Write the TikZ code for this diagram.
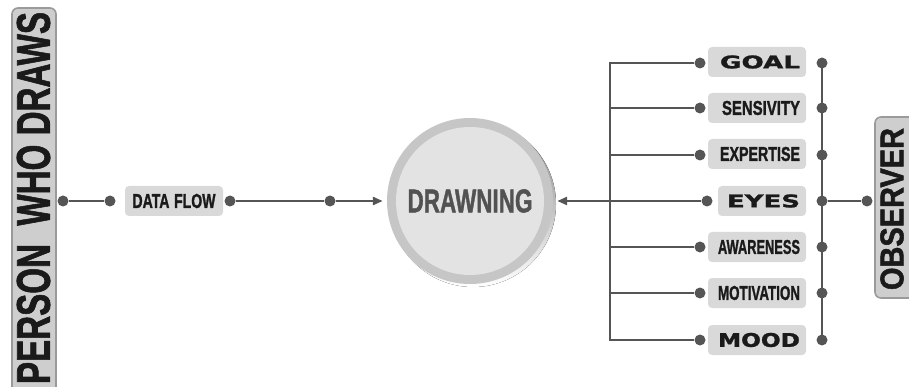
\documentclass[tikz,border=0pt]{standalone}
\usepackage{fontspec}
\setmainfont{Liberation Sans}[BoldFeatures={FakeBold=1.6}]
\newfontfamily\heavyfont{DejaVu Sans}[BoldFeatures={FakeBold=1.2}]
\usetikzlibrary{arrows.meta}

\definecolor{wire}{HTML}{555555}
\definecolor{tagfill}{HTML}{D9D9D9}
\definecolor{barfill}{HTML}{CECECE}
\definecolor{baredge}{HTML}{9A9A9A}
\definecolor{ringfill}{HTML}{C6C6C6}
\definecolor{discfill}{HTML}{E3E3E3}
\definecolor{shade}{HTML}{9C9C9C}
\definecolor{inkgray}{HTML}{525252}
\definecolor{ink}{HTML}{1A1A1A}

% squeeze bold text into an exact width x cap-height
\newcommand{\fitlbl}[3]{\resizebox{#1pt}{#2pt}{\bfseries #3}}
\newcommand{\fitwide}[3]{\resizebox{#1pt}{#2pt}{\heavyfont\bfseries #3}}

\begin{document}
\begin{tikzpicture}[x=1pt,y=-1pt,
  wire/.style={draw=wire, line width=2.7pt},
  dot/.style={circle, fill=wire, inner sep=0pt, minimum size=11pt},
  tagbox/.style={fill=tagfill, rounded corners=4pt, minimum height=30pt,
                 inner xsep=6pt, inner ysep=0pt, align=right, text width=86pt, text=ink},
  sidebar/.style={fill=barfill, draw=baredge, line width=1.6pt, rounded corners=6pt},
  tip/.style={-{Triangle[length=10pt,width=8pt]}}
]
\useasboundingbox (0,0) rectangle (909,387);

% person bar on the left
\draw[sidebar] (12,8) rectangle (56,400);
\node[rotate=90, inner sep=0pt, text=ink] (person) at (33.5,198) {\fitlbl{372}{33}{PERSON\ \ WHO DRAWS}};

% observer bar on the right
\draw[sidebar] (875,117) rectangle (916,298);
\node[rotate=90, inner sep=0pt, text=ink] (observer) at (892,209) {\fitlbl{162}{23}{OBSERVER}};

% central disc with its drop shadow
\fill[shade] (473,204) circle (83pt);
\node[circle, fill=ringfill, minimum size=166pt, inner sep=0pt] (drawing) at (470,201) {};
\fill[discfill] (drawing.center) circle (74pt);
\node[inner sep=0pt, text=inkgray] (drawtxt) at (drawing.center) {\fitlbl{125}{23}{DRAWNING}};

% data flow chain
\node[dot] (p1) at (63,201) {};
\node[dot] (p2) at (110,201) {};
\node[tagbox, text width=86pt, align=center] (flow) at (174,201) {\fitlbl{83}{14}{DATA FLOW}};
\node[dot] (p3) at (230,201) {};
\node[dot] (p4) at (330,201) {};
\draw[wire] (p1) -- (p2);
\draw[wire] (p3) -- (p4);
\draw[wire, tip, shorten >=4pt] (p4) -- (drawing);

% factor boxes
\node[tagbox] (goal) at (757,62) {\fitwide{80}{13}{GOAL}};
\node[tagbox] (sens) at (757,108) {\fitlbl{78}{14}{SENSIVITY}};
\node[tagbox] (expe) at (757,154) {\fitlbl{80}{14}{EXPERTISE}};
\node[tagbox, text width=76pt] (eyes) at (762,201) {\fitwide{73}{13}{EYES}};
\node[tagbox] (awar) at (757,247) {\fitlbl{82}{14}{AWARENESS}};
\node[tagbox] (moti) at (757,293) {\fitlbl{82}{14}{MOTIVATION}};
\node[tagbox] (mood) at (757,340) {\fitwide{82}{14}{MOOD}};

% left-hand dots and bus
\node[dot] (l1) at (700,63) {};
\node[dot] (l2) at (700,108) {};
\node[dot] (l3) at (700,155) {};
\node[dot] (l4) at (707,201) {};
\node[dot] (l5) at (700,247) {};
\node[dot] (l6) at (700,293) {};
\node[dot] (l7) at (700,340) {};
\coordinate (lbus) at (610,340);
\draw[wire, line join=miter] (l1) -| (lbus) -- (l7);
\foreach \n in {l2,l3,l5,l6} \draw[wire] (\n) -- (\n -| lbus);
\draw[wire, tip, shorten >=4pt] (l4) -- (drawing);

% right-hand dots and bus
\node[dot] (r1) at (822,63) {};
\node[dot] (r2) at (822,108) {};
\node[dot] (r3) at (822,155) {};
\node[dot] (r4) at (822,201) {};
\node[dot] (r5) at (822,247) {};
\node[dot] (r6) at (822,293) {};
\node[dot] (r7) at (822,340) {};
\draw[wire] (r1.center) -- (r7.center);
\node[dot] (o1) at (867,201) {};
\draw[wire] (r4) -- (o1);
\end{tikzpicture}
\end{document}
